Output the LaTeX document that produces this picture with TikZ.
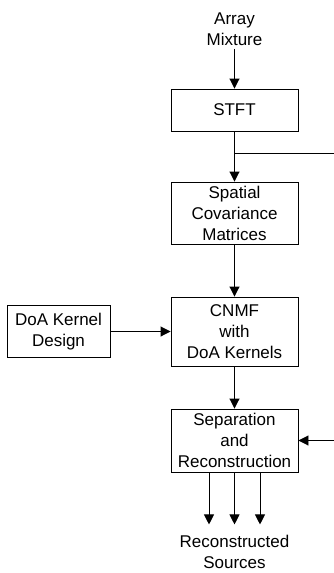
\documentclass[tikz,border=0pt]{standalone}
\usepackage{fontspec}
\setmainfont{Liberation Sans}
\usetikzlibrary{arrows.meta}

\tikzset{
    block/.style={draw, line width=0.9pt, minimum width=127pt, inner sep=0pt, align=center},
    flow/.style={line width=0.9pt, -{Triangle[length=10pt,width=10pt]}}
}

\begin{document}
\begin{tikzpicture}[x=1pt,y=-1pt,font=\fontsize{17}{21}\selectfont]
        \useasboundingbox (0,0) rectangle (334,573);
        \node[align=center](mix)at(234.5,29){Array\\Mixture};
        \node[block, minimum height=42pt](stft)at(234.5,110){STFT};
        \node[block, minimum height=62pt](scm)at(234.5,213){Spatial\\Covariance\\Matrices};
        \node[block, minimum height=69pt](cnmf)at(234.5,331.5){CNMF\\with\\DoA Kernels};
        \node[block, minimum width=103pt, minimum height=52pt](doa)at(58.5,331.5){DoA Kernel\\Design};
        \node[block, minimum height=63pt](sep)at(234.5,440.5){Separation\\and\\Reconstruction};
        \node[align=center](rec)at(234.5,552){Reconstructed\\Sources};
        \coordinate(br)at(234.5,153);
        \coordinate(outr)at(334,153);
        \coordinate(inr)at(334,440.5);
        \draw[flow](mix)--(stft);
        \draw[flow](stft)--(scm);
        \draw[line width=0.9pt](br)--(outr);
        \draw[flow](scm)--(cnmf);
        \draw[flow](doa)--(cnmf);
        \draw[flow](cnmf)--(sep);
        \draw[flow](inr)--(sep);
        \foreach \dx in {-25.5,0,25.5}
            \draw[flow]([xshift=\dx pt]sep.south)--++(0,52);
    \end{tikzpicture}
\end{document}
